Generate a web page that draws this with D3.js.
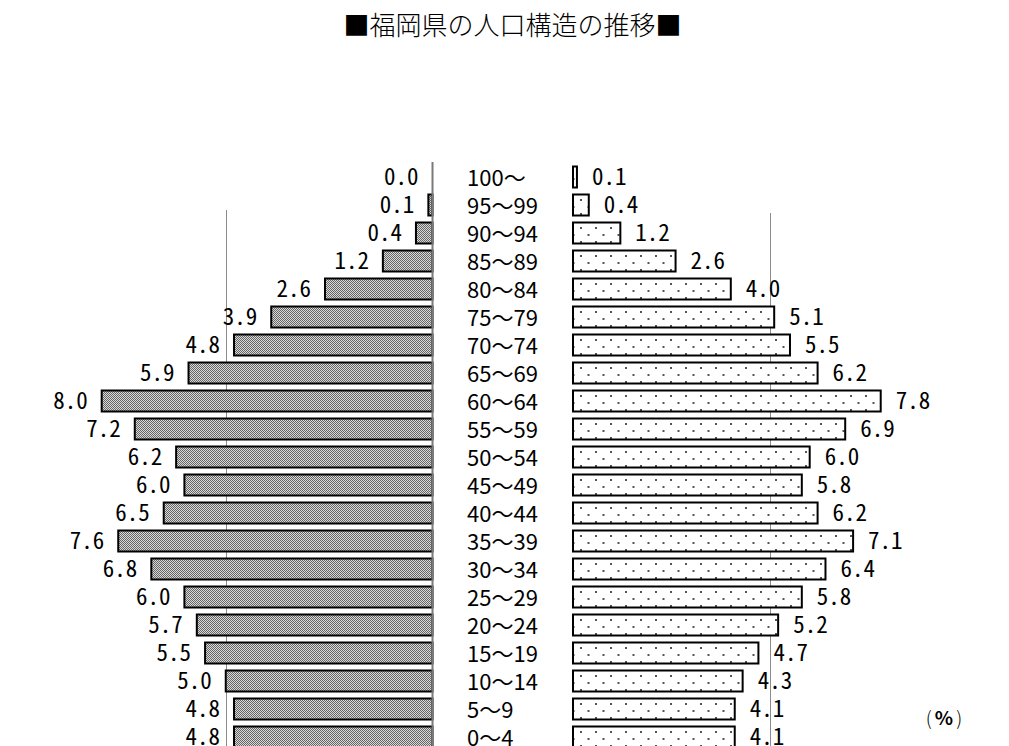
<!DOCTYPE html>
<html lang="ja">
<head>
<meta charset="utf-8">
<title>福岡県の人口構造の推移</title>
<script src="https://cdn.jsdelivr.net/npm/d3@7"></script>
<style>
  html, body { margin: 0; padding: 0; background: #ffffff; }
  svg { display: block; }
  .num { font-family: "Noto Sans CJK JP", sans-serif; font-feature-settings: "hwid"; }
  .age { font-family: "Noto Sans CJK JP", sans-serif; }
</style>
</head>
<body>
<svg id="chart" width="1009" height="746"></svg>
<script>
// Age groups, oldest at the top
const ageGroups = ["100〜","95〜99","90〜94","85〜89","80〜84","75〜79","70〜74","65〜69",
  "60〜64","55〜59","50〜54","45〜49","40〜44","35〜39","30〜34","25〜29",
  "20〜24","15〜19","10〜14","5〜9","0〜4"];

// Share of population (%) per age group — left pyramid
const leftShare = [0.0,0.1,0.4,1.2,2.6,3.9,4.8,5.9,8.0,7.2,6.2,6.0,6.5,7.6,6.8,6.0,5.7,5.5,5.0,4.8,4.8];
// Share of population (%) per age group — right pyramid
const rightShare = [0.1,0.4,1.2,2.6,4.0,5.1,5.5,6.2,7.8,6.9,6.0,5.8,6.2,7.1,6.4,5.8,5.2,4.7,4.3,4.1,4.1];

// Reference gridline value (%) on each side
const gridValue = [5];

const titleText = "■福岡県の人口構造の推移■";

const svg = d3.select("#chart");
const W = 1009, H = 746;

// Patterns: dense grey dither for the left bars, sparse dots for the right bars
const defs = svg.append("defs");
const dither = defs.append("pattern").attr("id", "dither")
  .attr("patternUnits", "userSpaceOnUse").attr("width", 2).attr("height", 2);
dither.append("rect").attr("width", 2).attr("height", 2).attr("fill", "#d9d9d9");
dither.append("rect").attr("x", 0).attr("y", 0).attr("width", 1).attr("height", 1).attr("fill", "#666");
dither.append("rect").attr("x", 1).attr("y", 1).attr("width", 1).attr("height", 1).attr("fill", "#666");

const dots = defs.append("pattern").attr("id", "dots")
  .attr("patternUnits", "userSpaceOnUse").attr("width", 15).attr("height", 14)
  .attr("x", 580).attr("y", 3);
dots.append("rect").attr("width", 15).attr("height", 14).attr("fill", "#ffffff");
dots.append("rect").attr("x", 0).attr("y", 0).attr("width", 2).attr("height", 2).attr("fill", "#555");
dots.append("rect").attr("x", 7.5).attr("y", 7).attr("width", 2).attr("height", 2).attr("fill", "#555");

// Scales
const y = d3.scalePoint().domain(ageGroups).range([177, 737]);
const barH = 21;

const leftAxisX = 432.5;
const xLeft = d3.scaleLinear().domain([0, 8]).range([leftAxisX, leftAxisX - 8 * 41.35]);
const rightStartX = 573;
const xRight = d3.scaleLinear().domain([0, 8]).range([rightStartX, rightStartX + 8 * 39.45]);

// Title
svg.append("text")
  .attr("x", W / 2 + 8).attr("y", 23)
  .attr("text-anchor", "middle").attr("dominant-baseline", "central")
  .attr("font-family", "\"Noto Sans CJK JP\", sans-serif")
  .attr("font-size", 26).attr("font-weight", 300).attr("fill", "#000")
  .text(titleText);

// Gridlines
svg.selectAll("line.gridL").data(gridValue).join("line")
  .attr("class", "gridL")
  .attr("x1", d => Math.round(xLeft(d)) + 0.5).attr("x2", d => Math.round(xLeft(d)) + 0.5)
  .attr("y1", 210).attr("y2", H)
  .attr("stroke", "#8c8c8c").attr("stroke-width", 1);
svg.selectAll("line.gridR").data(gridValue).join("line")
  .attr("class", "gridR")
  .attr("x1", d => Math.round(xRight(d)) + 0.5).attr("x2", d => Math.round(xRight(d)) + 0.5)
  .attr("y1", 213).attr("y2", H)
  .attr("stroke", "#8c8c8c").attr("stroke-width", 1);

// Left bars
svg.selectAll("rect.left").data(leftShare).join("rect")
  .attr("class", "left")
  .attr("x", d => xLeft(d))
  .attr("y", (d, i) => y(ageGroups[i]) - barH / 2)
  .attr("width", d => leftAxisX - xLeft(d))
  .attr("height", barH)
  .attr("fill", "url(#dither)")
  .attr("stroke", "#000").attr("stroke-width", 2);

// Left axis line
svg.append("line")
  .attr("x1", leftAxisX).attr("x2", leftAxisX)
  .attr("y1", 162).attr("y2", H)
  .attr("stroke", "#7a7a7a").attr("stroke-width", 2);

// Right bars
svg.selectAll("rect.right").data(rightShare).join("rect")
  .attr("class", "right")
  .attr("x", xRight(0))
  .attr("y", (d, i) => y(ageGroups[i]) - barH / 2)
  .attr("width", d => xRight(d) - xRight(0))
  .attr("height", barH)
  .attr("fill", "url(#dots)")
  .attr("stroke", "#000").attr("stroke-width", 2);

// Left value labels
svg.selectAll("text.lv").data(leftShare).join("text")
  .attr("class", "lv num")
  .attr("x", d => xLeft(d) - 14)
  .attr("y", (d, i) => y(ageGroups[i]) - 2)
  .attr("text-anchor", "end").attr("dominant-baseline", "central")
  .attr("font-size", 23).attr("fill", "#000")
  .text(d => d.toFixed(1));

// Right value labels
svg.selectAll("text.rv").data(rightShare).join("text")
  .attr("class", "rv num")
  .attr("x", d => xRight(d) + 15)
  .attr("y", (d, i) => y(ageGroups[i]) - 2)
  .attr("text-anchor", "start").attr("dominant-baseline", "central")
  .attr("font-size", 23).attr("fill", "#000")
  .text(d => d.toFixed(1));

// Age group labels
svg.selectAll("text.age").data(ageGroups).join("text")
  .attr("class", "age")
  .attr("x", 467)
  .attr("y", d => y(d) - 1)
  .attr("text-anchor", "start").attr("dominant-baseline", "central")
  .attr("font-size", 22).attr("fill", "#000")
  .text(d => d);

// Unit label
const unit = svg.append("text")
  .attr("x", 944).attr("y", 716)
  .attr("text-anchor", "middle").attr("dominant-baseline", "central")
  .attr("font-family", "\"Noto Sans CJK JP\", sans-serif")
  .attr("font-size", 19).attr("fill", "#000");
unit.append("tspan").attr("font-weight", 300).text("(");
unit.append("tspan").attr("font-weight", "bold").attr("dx", 3).text("%");
unit.append("tspan").attr("font-weight", 300).attr("dx", 3).text(")");
</script>
</body>
</html>
